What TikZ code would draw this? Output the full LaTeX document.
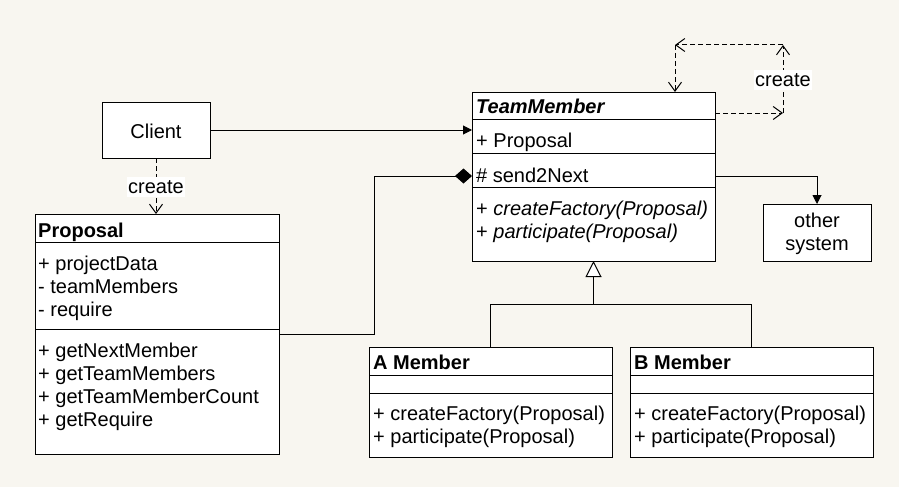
\documentclass[tikz,border=0pt]{standalone}
\usepackage{fontspec}
\setmainfont{Liberation Sans}
\usetikzlibrary{arrows.meta}
\definecolor{bg}{RGB}{248,246,240}
\newcommand\fs{\fontsize{20}{23}\selectfont}
\tikzset{
  box/.style={draw, fill=white, line width=1pt, inner sep=0pt, outer sep=0pt, anchor=north west},
  txt/.style={anchor=base west, inner sep=0pt, font=\fs},
  ctxt/.style={anchor=base, inner sep=0pt, font=\fs},
  conn/.style={line width=1pt},
  dep/.style={line width=1pt, dash pattern=on 5pt off 3pt, -{Straight Barb[length=9pt,width=13pt]}},
  lbl/.style={fill=white, font=\fs, inner xsep=1pt, inner ysep=3pt},
}
\begin{document}
\begin{tikzpicture}[x=1pt,y=-1pt]
\fill[bg] (0,0) rectangle (899,487);
\useasboundingbox (0,0) rectangle (899,487);

% Client
\node[box, minimum width=108pt, minimum height=56pt] (client) at (102,102) {};
\node[ctxt] (clientT) at (156,138) {Client};

% Proposal
\node[box, minimum width=244pt, minimum height=240pt] (proposal) at (35,214) {};
\draw[conn] (35,242) -- (279,242);
\draw[conn] (35,329) -- (279,329);
\node[txt] (pT) at (38,237) {\bfseries Proposal};
\node[txt] (pa1) at (38,270) {+ projectData};
\node[txt] (pa2) at (38,293) {- teamMembers};
\node[txt] (pa3) at (38,316) {- require};
\node[txt] (pm1) at (38,357) {+ getNextMember};
\node[txt] (pm2) at (38,380) {+ getTeamMembers};
\node[txt] (pm3) at (38,403) {+ getTeamMemberCount};
\node[txt] (pm4) at (38,426) {+ getRequire};

% TeamMember
\node[box, minimum width=243pt, minimum height=169pt] (tm) at (472,92) {};
\draw[conn] (472,119) -- (715,119);
\draw[conn] (472,153) -- (715,153);
\draw[conn] (472,187) -- (715,187);
\node[txt] (tmT) at (476,113) {\bfseries\itshape TeamMember};
\node[txt] (tma1) at (476,147) {+ Proposal};
\node[txt] (tma2) at (476,182) {\# send2Next};
\node[txt] (tmm1) at (476,215) {+ \itshape createFactory(Proposal)};
\node[txt] (tmm2) at (476,238) {+ \itshape participate(Proposal)};

% other system
\node[box, minimum width=108pt, minimum height=57pt] (other) at (763,204) {};
\node[ctxt] (oT1) at (817,227) {other};
\node[ctxt] (oT2) at (817,250) {system};

% A Member
\node[box, minimum width=243pt, minimum height=110pt] (am) at (369,347) {};
\draw[conn] (369,375) -- (612,375);
\draw[conn] (369,393) -- (612,393);
\node[txt] (amT) at (373,369) {\bfseries A Member};
\node[txt] (amm1) at (373,420) {+ createFactory(Proposal)};
\node[txt] (amm2) at (373,443) {+ participate(Proposal)};

% B Member
\node[box, minimum width=243pt, minimum height=110pt] (bm) at (630,347) {};
\draw[conn] (630,375) -- (873,375);
\draw[conn] (630,393) -- (873,393);
\node[txt] (bmT) at (634,369) {\bfseries B Member};
\node[txt] (bmm1) at (634,420) {+ createFactory(Proposal)};
\node[txt] (bmm2) at (634,443) {+ participate(Proposal)};

% Client -> TeamMember
\draw[conn, -{Triangle[length=9pt,width=9pt]}] (client.east) -- (client.east -| tm.west);

% Client -> Proposal (create)
\draw[dep] (client.south) -- (client.south |- proposal.north);
\node[lbl] (cr1) at (156,187) {create};

% Composition Proposal -> TeamMember
\draw[conn, -{Diamond[length=17pt,width=15pt]}] (proposal.east |- 0,334) -| (374,176) -- (tm.west |- 0,176);

% TeamMember -> other system
\draw[conn, -{Triangle[length=9pt,width=9pt]}] (tm.east |- 0,176) -| (other.north);

% Inheritance
\draw[conn] (am.north) |- (bm.north |- 0,304) -- (bm.north);
\draw[conn, -{Triangle[open,fill=white,length=16pt,width=16pt]}] (tm.south |- 0,304) -- (tm.south);

% self create loop
\coordinate (l1) at (783,113);
\coordinate (l2) at (783,45);
\coordinate (l3) at (675,45);
\draw[dep] (tm.east |- l1) -- (l1);
\draw[dep] (l1) -- (l2);
\draw[dep] (l2) -- (l3);
\draw[dep] (l3) -- (l3 |- tm.north);
\node[lbl] (cr2) at (783,80) {create};
\end{tikzpicture}
\end{document}
